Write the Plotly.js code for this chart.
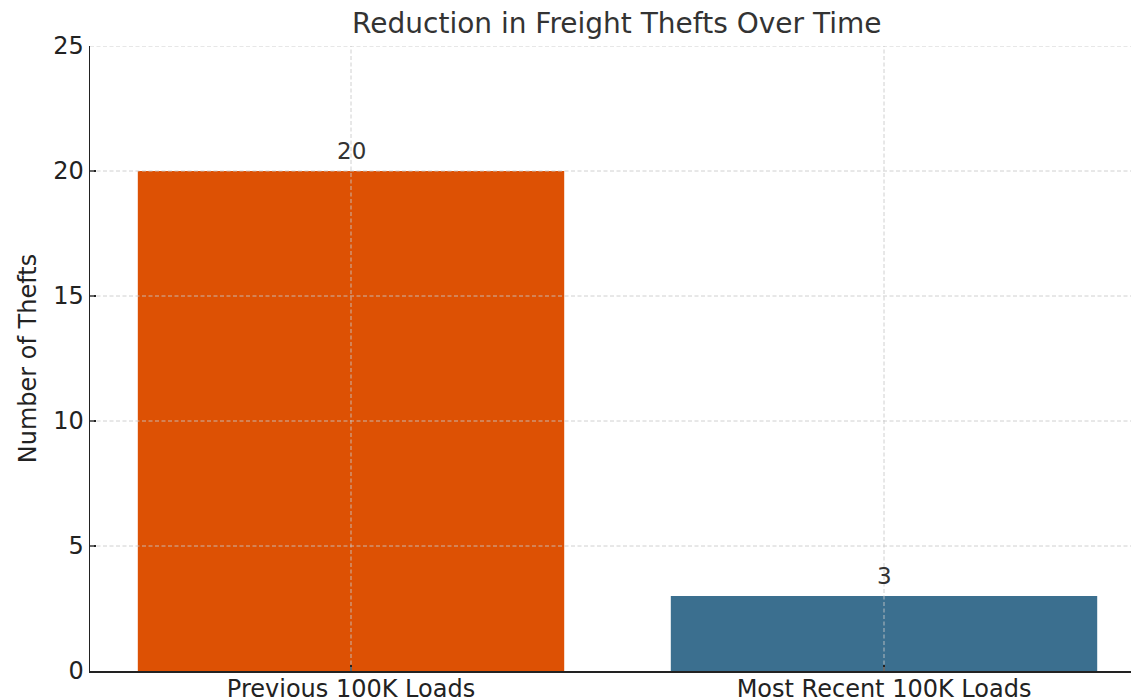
<!DOCTYPE html>
<html>
<head>
<meta charset="utf-8">
<script src="https://cdn.plot.ly/plotly-3.0.1.min.js"></script>
<style>html,body{margin:0;padding:0;background:#fff;}#chart{width:1131px;height:700px;}</style>
</head>
<body>
<div id="chart"></div>
<script>
const categories = ["Previous 100K Loads", "Most Recent 100K Loads"];
const thefts = [20, 3];
const barColors = ["#dd5104", "#3b6f8f"];
const yTicks = [0, 5, 10, 15, 20, 25];

const font = "DejaVu Sans, sans-serif";
const gridLine = {color: "rgba(200,200,200,0.85)", width: 1, dash: "4px,2.5px"};
const gridShapes = yTicks.slice(1).map(v => ({
  type: "line", xref: "paper", yref: "y", x0: 0, x1: 1, y0: v, y1: v,
  line: gridLine, layer: "above"
})).concat(categories.map((c, i) => ({
  type: "line", xref: "x", yref: "paper", x0: i, x1: i, y0: 0, y1: 1,
  line: gridLine, layer: "above"
})));

const annotations = categories.map((c, i) => ({
  x: i, y: thefts[i], xref: "x", yref: "y", text: String(thefts[i]),
  showarrow: false, yanchor: "bottom", yshift: 5,
  font: {family: font, size: 23, color: "#333333"}
}));

Plotly.newPlot("chart", [{
  type: "bar", x: [0, 1], y: thefts, width: 0.8,
  marker: {color: barColors, line: {width: 0}}, hoverinfo: "none"
}], {
  width: 1131, height: 700,
  margin: {l: 90, r: 0, t: 46, b: 29, pad: 0},
  paper_bgcolor: "#ffffff", plot_bgcolor: "#ffffff",
  showlegend: false,
  title: {text: "Reduction in Freight Thefts Over Time", x: 0.506, xref: "paper",
    y: 0.981, yref: "container", yanchor: "top",
    font: {family: font, size: 28, color: "#333333"}},
  xaxis: {range: [-0.4897, 1.4634], tickmode: "array", tickvals: [0, 1], ticktext: categories,
    showgrid: false, zeroline: false, showline: true, linecolor: "#222222", linewidth: 1.5,
    ticks: "inside", ticklen: 6, tickwidth: 1.5, tickcolor: "#222222",
    ticklabelstandoff: -4,
    tickfont: {family: font, size: 24, color: "#222222"}, layer: "above traces"},
  yaxis: {range: [0, 25], tickvals: yTicks, showgrid: false, zeroline: false,
    showline: true, linecolor: "#222222", linewidth: 1.5,
    ticks: "inside", ticklen: 6, tickwidth: 1.5, tickcolor: "#222222",
    tickfont: {family: font, size: 24, color: "#222222"},
    title: {text: "Number of Thefts", font: {family: font, size: 24, color: "#222222"}, standoff: 10},
    layer: "above traces"},
  shapes: gridShapes,
  annotations: annotations
}, {displayModeBar: false, staticPlot: true});
</script>
</body>
</html>
